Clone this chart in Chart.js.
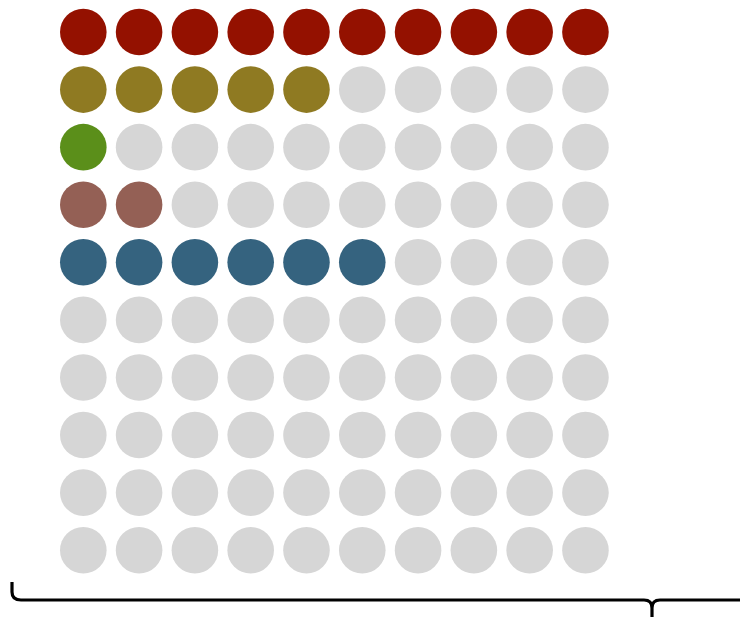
<!DOCTYPE html>
<html>
<head>
<meta charset="utf-8">
<script src="https://cdn.jsdelivr.net/npm/chart.js@4/dist/chart.umd.min.js"></script>
<style>
  html, body { margin: 0; padding: 0; background: #fff; }
  #wrap { width: 740px; height: 617px; position: relative; }
</style>
</head>
<body>
<div id="wrap"><canvas id="waffle"></canvas></div>
<script>
// waffle: one row per group, filled left to right, rest grey
const groups = ['Group 1', 'Group 2', 'Group 3', 'Group 4', 'Group 5'];
const counts = [10, 5, 1, 2, 6];
const colors = ['#941100', '#8f7a22', '#5b8f1a', '#946055', '#35637f'];
const emptyColor = '#d6d6d6';
const cols = 10, rows = 10;

const datasets = groups.map((g, r) => {
  const pts = [];
  for (let c = 0; c < counts[r]; c++) pts.push({ x: c, y: r });
  return { label: g, data: pts, backgroundColor: colors[r] };
});
const empty = [];
for (let r = 0; r < rows; r++) {
  const filled = r < counts.length ? counts[r] : 0;
  for (let c = filled; c < cols; c++) empty.push({ x: c, y: r });
}
datasets.push({ label: 'empty', data: empty, backgroundColor: emptyColor });

// bracket under the grid
const bracePlugin = {
  id: 'brace',
  afterDraw(chart) {
    const ctx = chart.ctx;
    const yLine = 600, tipX = 652;
    ctx.save();
    ctx.strokeStyle = '#000';
    ctx.lineWidth = 3.2;
    ctx.lineJoin = 'round';
    ctx.beginPath();
    ctx.moveTo(12, 582);
    ctx.lineTo(12, 592);
    ctx.quadraticCurveTo(12, yLine, 21, yLine);
    ctx.lineTo(tipX - 8, yLine);
    ctx.quadraticCurveTo(tipX, yLine, tipX, 608);
    ctx.lineTo(tipX, 617);
    ctx.moveTo(tipX, 608);
    ctx.quadraticCurveTo(tipX, yLine, tipX + 8, yLine);
    ctx.lineTo(740, yLine);
    ctx.stroke();
    ctx.restore();
  }
};

new Chart(document.getElementById('waffle'), {
  type: 'scatter',
  data: { datasets: datasets.map(d => ({ ...d, pointRadius: 23.3, pointHoverRadius: 23.3, borderWidth: 0 })) },
  options: {
    responsive: true, maintainAspectRatio: false, animation: false,
    layout: { padding: 0, autoPadding: false },
    plugins: { legend: { display: false }, tooltip: { enabled: false } },
    scales: {
      x: { display: false, min: -1.493, max: 11.77 },
      y: { display: false, reverse: true, min: -0.556, max: 10.16 }
    }
  },
  plugins: [bracePlugin]
});
</script>
</body>
</html>
